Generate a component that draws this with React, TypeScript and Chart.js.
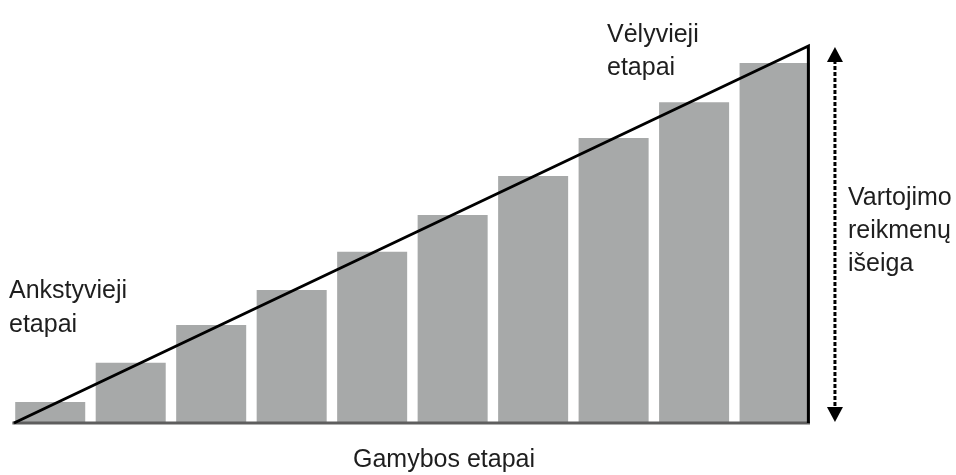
import React, { useEffect, useRef } from 'react';
import { Chart, registerables } from 'chart.js';

Chart.register(...registerables);

// ---- data ----
const stageIndex = [0, 1, 2, 3, 4, 5, 6, 7, 8, 9];
const barValues = [5.6, 16, 26, 35.3, 45.4, 55.2, 65.5, 75.6, 85.1, 95.5];
const triangleX = [-0.45, 9.42, 9.42];
const triangleY = [0, 100, 0];
const baselineX = [-0.47, 9.44];
const baselineY = [0, 0];
const arrowX = 9.75;
const arrowRange = [0, 100];
const labelEarly = ['Ankstyvieji', 'etapai'];
const labelLate = ['Vėlyvieji', 'etapai'];
const labelOutput = ['Vartojimo', 'reikmenų', 'išeiga'];
const labelAxis = 'Gamybos etapai';

const FONT = '25px "Liberation Sans", Arial, sans-serif';
const TEXT_COLOR = '#1e1e1e';

const annotationPlugin = {
  id: 'annotations',
  afterDatasetsDraw(chart: any) {
    const ctx = chart.ctx as CanvasRenderingContext2D;
    const xs = chart.scales.x;
    const ys = chart.scales.y;
    // arrow
    const ax = xs.getPixelForValue(arrowX);
    const yTop = ys.getPixelForValue(arrowRange[1]) + 1;
    const yBot = ys.getPixelForValue(arrowRange[0]) - 1;
    const headH = 15;
    const headW = 16;
    ctx.save();
    ctx.strokeStyle = '#000';
    ctx.lineWidth = 3;
    ctx.setLineDash([4, 2]);
    ctx.beginPath();
    ctx.moveTo(ax, yTop + headH - 2);
    ctx.lineTo(ax, yBot - headH + 2);
    ctx.stroke();
    ctx.setLineDash([]);
    ctx.fillStyle = '#000';
    ctx.beginPath();
    ctx.moveTo(ax, yTop);
    ctx.lineTo(ax - headW / 2, yTop + headH);
    ctx.lineTo(ax + headW / 2, yTop + headH);
    ctx.closePath();
    ctx.fill();
    ctx.beginPath();
    ctx.moveTo(ax, yBot);
    ctx.lineTo(ax - headW / 2, yBot - headH);
    ctx.lineTo(ax + headW / 2, yBot - headH);
    ctx.closePath();
    ctx.fill();

    // texts
    ctx.font = FONT;
    ctx.fillStyle = TEXT_COLOR;
    ctx.textAlign = 'left';
    ctx.textBaseline = 'alphabetic';
    const drawLines = (lines: string[], x: number, y: number, lh: number) => {
      lines.forEach((t, i) => ctx.fillText(t, x, y + i * lh));
    };
    drawLines(labelEarly, 9, 298, 34);
    drawLines(labelLate, 607, 42, 33);
    drawLines(labelOutput, 848, 205, 33);
    ctx.fillText(labelAxis, 353, 467);
    ctx.restore();
  },
};

export default function App() {
  const canvasRef = useRef<HTMLCanvasElement | null>(null);

  useEffect(() => {
    if (!canvasRef.current) return;
    const chart = new Chart(canvasRef.current, {
      type: 'bar',
      data: {
        datasets: [
          {
            type: 'bar',
            data: stageIndex.map((x, i) => ({ x, y: barValues[i] })),
            backgroundColor: '#a7a9a9',
            borderWidth: 0,
            categoryPercentage: 1,
            barPercentage: 0.87,
            order: 3,
          } as any,
          {
            type: 'line',
            data: baselineX.map((x, i) => ({ x, y: baselineY[i] })),
            borderColor: '#5e5e5e',
            borderWidth: 3,
            pointRadius: 0,
            clip: false,
            order: 2,
          } as any,
          {
            type: 'line',
            data: triangleX.map((x, i) => ({ x, y: triangleY[i] })),
            borderColor: '#000',
            borderWidth: 3,
            pointRadius: 0,
            tension: 0,
            clip: false,
            order: 1,
          } as any,
        ],
      },
      options: {
        animation: false,
        responsive: true,
        maintainAspectRatio: false,
        layout: { padding: { left: 14, right: 146, top: 46, bottom: 52 } },
        plugins: {
          legend: { display: false },
          tooltip: { enabled: false },
          title: { display: false },
        },
        scales: {
          x: { type: 'linear', min: -0.45, max: 9.44, display: false, offset: false },
          y: { type: 'linear', min: 0, max: 100, display: false },
        },
      },
      plugins: [annotationPlugin],
    } as any);
    return () => chart.destroy();
  }, []);

  return (
    <div style={{ position: 'fixed', left: 0, top: 0, width: 956, height: 475, background: '#fff' }}>
      <canvas ref={canvasRef} />
    </div>
  );
}
